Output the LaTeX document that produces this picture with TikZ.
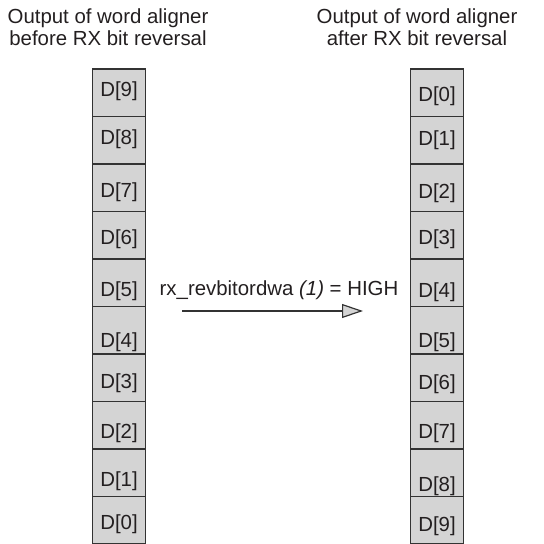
\documentclass[tikz,border=0pt]{standalone}
\usepackage{fontspec}
\setmainfont{Liberation Sans}
\usepackage{xcolor}
\definecolor{cellFill}{HTML}{D4D4D4}
\definecolor{cellLine}{HTML}{333333}
\definecolor{textDark}{HTML}{231F20}
\usetikzlibrary{arrows.meta}

\begin{document}
\begin{tikzpicture}[x=0.5pt, y=-0.5pt,
    cell/.style={draw=cellLine, fill=cellFill, line width=0.6pt, minimum width=26.5pt, minimum height=23.75pt, inner sep=0pt},
    bit/.style={anchor=base, inner sep=0pt, text=textDark, font=\fontsize{10.2}{12}\selectfont},
    title/.style={align=center, inner sep=0pt, text=textDark, font=\fontsize{10.2}{11}\selectfont},
    flow/.style={cellLine, line width=0.6pt, -{Triangle[length=10.5pt, width=7pt, fill=cellFill]}}]
  \useasboundingbox (0,0) rectangle (543,544);
  % titles
  \node[title] (leftTitle) at (108,27) {Output of word aligner\\before RX bit reversal};
  \node[title] (rightTitle) at (417,27) {Output of word aligner\\after RX bit reversal};
  % left column
  \node[cell] (L9) at (119,92.75) {};
  \node[cell] (L8) at (119,140.25) {};
  \node[cell] (L7) at (119,187.75) {};
  \node[cell] (L6) at (119,235.25) {};
  \node[cell] (L5) at (119,282.75) {};
  \node[cell] (L4) at (119,330.25) {};
  \node[cell] (L3) at (119,377.75) {};
  \node[cell] (L2) at (119,425.25) {};
  \node[cell] (L1) at (119,472.75) {};
  \node[cell] (L0) at (119,520.25) {};
  \node[bit] (tL9) at (119,97) {D[9]};
  \node[bit] (tL8) at (119,145) {D[8]};
  \node[bit] (tL7) at (119,198) {D[7]};
  \node[bit] (tL6) at (119,245) {D[6]};
  \node[bit] (tL5) at (119,297) {D[5]};
  \node[bit] (tL4) at (119,347) {D[4]};
  \node[bit] (tL3) at (119,388) {D[3]};
  \node[bit] (tL2) at (119,438) {D[2]};
  \node[bit] (tL1) at (119,486) {D[1]};
  \node[bit] (tL0) at (119,529) {D[0]};
  % right column
  \node[cell] (R0) at (437,92.75) {};
  \node[cell] (R1) at (437,140.25) {};
  \node[cell] (R2) at (437,187.75) {};
  \node[cell] (R3) at (437,235.25) {};
  \node[cell] (R4) at (437,282.75) {};
  \node[cell] (R5) at (437,330.25) {};
  \node[cell] (R6) at (437,377.75) {};
  \node[cell] (R7) at (437,425.25) {};
  \node[cell] (R8) at (437,472.75) {};
  \node[cell] (R9) at (437,520.25) {};
  \node[bit] (tR0) at (437,102) {D[0]};
  \node[bit] (tR1) at (437,146) {D[1]};
  \node[bit] (tR2) at (437,199) {D[2]};
  \node[bit] (tR3) at (437,245) {D[3]};
  \node[bit] (tR4) at (437,298) {D[4]};
  \node[bit] (tR5) at (437,347) {D[5]};
  \node[bit] (tR6) at (437,389) {D[6]};
  \node[bit] (tR7) at (437,438) {D[7]};
  \node[bit] (tR8) at (437,491) {D[8]};
  \node[bit] (tR9) at (437,531) {D[9]};
  % reversal arrow
  \node[bit] (cond) at (279,296) {rx\_revbitordwa \textit{(1)} = HIGH};
  \coordinate (arrStart) at (182,311);
  \coordinate (arrEnd) at (363,311);
  \draw[flow] (arrStart) -- (arrEnd);
\end{tikzpicture}
\end{document}
